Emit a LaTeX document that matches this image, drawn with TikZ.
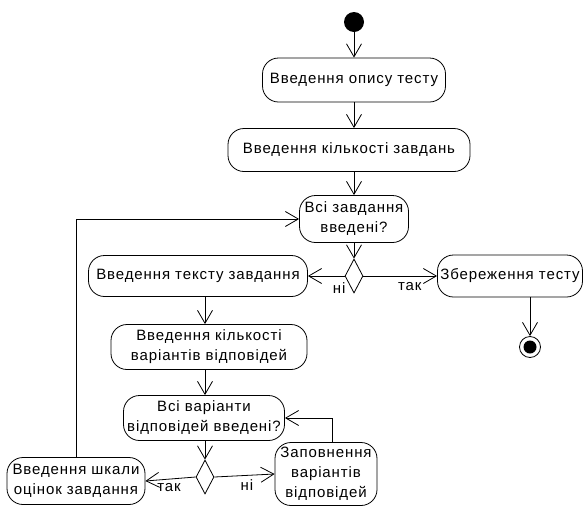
\documentclass[tikz,border=0pt]{standalone}
\usepackage{fontspec}
\setmainfont{Liberation Sans}[LetterSpace=6]
\usetikzlibrary{positioning,shapes.geometric,arrows.meta}

\begin{document}
\begin{tikzpicture}[x=1pt, y=-1pt, line width=0.8pt,
    >={Straight Barb[length=13pt,width=15pt,line width=0.8pt]},
    act/.style={draw, rounded corners=16pt, align=center, inner xsep=1pt, inner ysep=0pt,
      font=\fontsize{15}{20}\selectfont},
    dec/.style={draw, diamond, minimum width=18pt, minimum height=34pt, inner sep=0pt},
    lbl/.style={font=\fontsize{15}{18}\selectfont, inner sep=1pt}]
  \useasboundingbox (0,0) rectangle (584,507);

  % start and main column
  \node[circle, fill=black, minimum size=20pt, inner sep=0pt] (start) at (354,22) {};
  \node[act, minimum width=183pt, minimum height=44pt] (opis) at (354,80) {Введення опису тесту};
  \node[act, minimum width=242pt, minimum height=43pt] (kilz) at (349,150) {Введення кількості завдань};
  \node[act, minimum width=109pt, minimum height=47pt] (vsiz) at (354,219) {Всі завдання\\введені?};
  \node[dec] (d1) at (354,276) {};

  % branches of the first decision
  \node[act, minimum width=219pt, minimum height=41pt] (tekst) at (198,276) {Введення тексту завдання};
  \node[act, minimum width=145pt, minimum height=42pt] (zber) at (510,276) {Збереження тесту};
  \node[circle, draw, minimum size=21pt, inner sep=0pt] (fin) at (530,347) {};
  \node[circle, fill=black, minimum size=13pt, inner sep=0pt] (fincore) at (fin) {};

  % answers column
  \node[act, minimum width=196pt, minimum height=45pt] (kilvar) at (209,347) {Введення кількості\\варіантів відповідей};
  \node[act, minimum width=161pt, minimum height=45pt] (vsivar) at (204,418) {Всі варіанти\\відповідей введені?};
  \node[dec] (d2) at (205,477) {};
  \node[act, minimum width=138pt, minimum height=47pt] (shkala) at (76,481) {Введення шкали\\оцінок завдання};
  \node[act, minimum width=102pt, minimum height=63pt] (zapov) at (326,474) {Заповнення\\варіантів\\відповідей};

  \draw[->] (start) -- (opis);
  \draw[->] (opis.south) -- (opis.south |- kilz.north);
  \draw[->] (vsiz.north |- kilz.south) -- (vsiz.north);
  \draw[->] (vsiz) -- (d1);
  \draw[->] (d1.west) -- (tekst.east) node[lbl, pos=0.15, below=5pt] (ni1) {ні};
  \draw[->] (d1.east) -- (zber.west) node[lbl, pos=0.63, below=5pt] (tak1) {так};
  \draw[->] (fin |- zber.south) -- (fin.north);

  \draw[->] (tekst.south -| d2) -- (kilvar.north -| d2);
  \draw[->] (kilvar.south -| d2) -- (vsivar.north -| d2);
  \draw[->] (vsivar.south -| d2) -- (d2.north);
  \draw[->] (d2.west) -- (shkala.east) node[lbl, pos=0.53, below=3pt] (tak2) {так};
  \draw[->] (d2.east) -- (zapov.west) node[lbl, pos=0.54, below=3pt] (ni2) {ні};

  % loops back
  \draw[->] ([xshift=6pt]zapov.north) |- (vsivar.east);
  \draw[->] (shkala.north) |- (vsiz.west);
\end{tikzpicture}
\end{document}
